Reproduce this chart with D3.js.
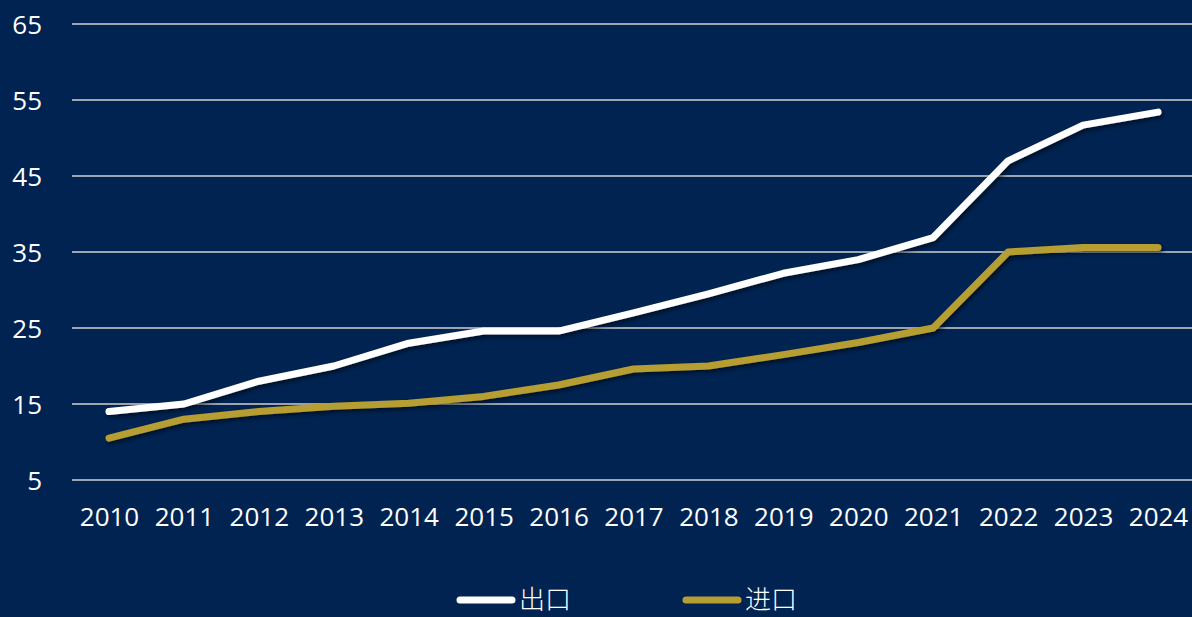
<!DOCTYPE html>
<html>
<head>
<meta charset="utf-8">
<script src="https://cdn.jsdelivr.net/npm/d3@7"></script>
<style>
  html, body { margin: 0; padding: 0; background: #002352; }
  svg { display: block; }
  .tick text { font-family: "Open Sans", "Noto Sans", sans-serif; fill: #fff; }
</style>
</head>
<body>
<div id="chart"></div>
<script>
// values
var years = ['2010','2011','2012','2013','2014','2015','2016','2017','2018','2019','2020','2021','2022','2023','2024'];
var exportVals = [14, 15, 18, 20, 23, 24.6, 24.6, 27, 29.5, 32.2, 34, 36.9, 47, 51.7, 53.4];
var importVals = [10.5, 13, 14, 14.7, 15.1, 16, 17.5, 19.6, 20, 21.5, 23.1, 25, 35, 35.6, 35.6];
var yTicks = [5, 15, 25, 35, 45, 55, 65];
var seriesNames = ['出口', '进口'];
var seriesColors = ['#ffffff', '#b79e32'];

var width = 1192, height = 617;

var svg = d3.select('#chart').append('svg')
  .attr('width', width)
  .attr('height', height);

svg.append('rect').attr('width', width).attr('height', height).attr('fill', '#002352');

var defs = svg.append('defs');
var f = defs.append('filter').attr('id', 'shadow')
  .attr('x', '-5%').attr('y', '-20%').attr('width', '110%').attr('height', '140%');
f.append('feDropShadow')
  .attr('dx', 2).attr('dy', 2.5).attr('stdDeviation', 2)
  .attr('flood-color', '#000').attr('flood-opacity', 0.55);

var x = d3.scalePoint()
  .domain(years)
  .range([109, 1158]);

var y = d3.scaleLinear()
  .domain([5, 65])
  .range([480, 24]);

// gridlines
svg.append('g')
  .selectAll('line')
  .data(yTicks)
  .enter().append('line')
    .attr('x1', 72).attr('x2', width)
    .attr('y1', function(d) { return y(d); })
    .attr('y2', function(d) { return y(d); })
    .attr('stroke', '#d0d0d0')
    .attr('stroke-width', 1.5);

// y axis labels
var yAxis = svg.append('g')
  .attr('transform', 'translate(42,0)')
  .call(d3.axisLeft(y).tickValues(yTicks).tickSize(0).tickPadding(0));
yAxis.select('.domain').remove();
yAxis.selectAll('text').attr('font-size', 26).attr('dy', '0.35em');

// x axis labels
var xAxis = svg.append('g')
  .attr('transform', 'translate(0,501)')
  .call(d3.axisBottom(x).tickSize(0).tickPadding(0));
xAxis.select('.domain').remove();
xAxis.selectAll('text').attr('font-size', 26).attr('dy', '0.95em');

var line = d3.line()
  .x(function(d, i) { return x(years[i]); })
  .y(function(d) { return y(d); });

var series = [exportVals, importVals];

svg.append('g')
  .selectAll('path')
  .data(series)
  .enter().append('path')
    .attr('d', line)
    .attr('fill', 'none')
    .attr('stroke', function(d, i) { return seriesColors[i]; })
    .attr('stroke-width', 7)
    .attr('stroke-linecap', 'round')
    .attr('stroke-linejoin', 'round')
    .attr('filter', 'url(#shadow)');

// legend
var legendX = [460, 686];
var lg = svg.append('g')
  .selectAll('g')
  .data(seriesNames)
  .enter().append('g')
    .attr('transform', function(d, i) { return 'translate(' + legendX[i] + ',600)'; });

lg.append('line')
  .attr('x1', 0).attr('x2', 52)
  .attr('y1', 0).attr('y2', 0)
  .attr('stroke', function(d, i) { return seriesColors[i]; })
  .attr('stroke-width', 7)
  .attr('stroke-linecap', 'round');

lg.append('text')
  .attr('x', 59)
  .attr('y', 0)
  .attr('dy', '0.34em')
  .attr('font-family', '"Noto Sans CJK SC", sans-serif')
  .attr('font-size', 26)
  .attr('font-weight', 300)
  .attr('fill', '#fff')
  .text(function(d) { return d; });
</script>
</body>
</html>
